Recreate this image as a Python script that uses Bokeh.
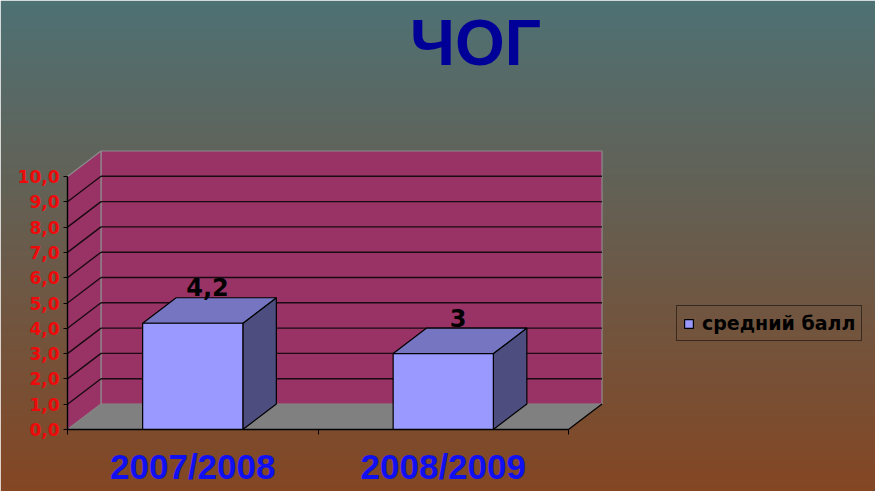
import numpy as np
from bokeh.plotting import figure
from bokeh.models import (Range1d, LinearAxis, FixedTicker, CustomJSTickFormatter,
                          Legend, LegendItem, Label, ColumnDataSource)
from bokeh.core.properties import value
from bokeh.embed import file_html
from bokeh.resources import INLINE

# ---------------- data ----------------
TITLE = "ЧОГ"
CATEGORIES = ["2007/2008", "2008/2009"]
SERIES_NAME = "средний балл"
VALUES = [4.2, 3.0]
VALUE_LABELS = ["4,2", "3"]
Y_TICKS = [0, 1, 2, 3, 4, 5, 6, 7, 8, 9, 10]
Y_MAX = 10

# ---------------- layout / style ----------------
W, H = 875, 491
AX_X_PX, AX_Y_PX = 67, 429          # where the value axis meets the category axis
CAT_PX = 250.5                      # pixels per category
UNIT_PX = 25.3                      # pixels per value unit
DX = 33.5 / CAT_PX                  # 3-D depth offset in data units
DY = 25.5 / UNIT_PX
HALF = 0.2                          # half bar width
FONT = "Liberation Sans"
FONT2 = "DejaVu Sans"

x0 = -AX_X_PX / CAT_PX
x1 = (W - AX_X_PX) / CAT_PX
y0 = (AX_Y_PX - H) / UNIT_PX
y1 = AX_Y_PX / UNIT_PX

p = figure(width=W, height=H, x_range=Range1d(x0, x1), y_range=Range1d(y0, y1),
           x_axis_type=None, y_axis_type=None, toolbar_location=None,
           output_backend="svg", min_border=0)
p.outline_line_color = None
p.background_fill_color = None
p.border_fill_color = None

# background gradient
rows = np.arange(H)
ref_y = H - 1 - rows + 0.5
t = (ref_y / H)[:, None]
top_c = np.array([78, 113, 116], dtype=float)
bot_c = np.array([132, 70, 35], dtype=float)
rgb = top_c + (bot_c - top_c) * t
img = np.empty((H, 2), dtype=np.uint32)
view = img.view(dtype=np.uint8).reshape((H, 2, 4))
for k in range(3):
    view[:, :, k] = np.round(rgb[:, k])[:, None]
view[:, :, 3] = 255
p.image_rgba(image=[img], x=x0, y=y0, dw=x1 - x0, dh=y1 - y0)

n = len(CATEGORIES)
xmax = float(n)

# walls
WALL = "#993366"
EDGE = "#8C8C8C"
p.patch([DX, xmax + DX, xmax + DX, DX], [DY, DY, Y_MAX + DY, Y_MAX + DY],
        fill_color=WALL, line_color=EDGE, line_width=1.2)
p.patch([0, DX, DX, 0], [0, DY, Y_MAX + DY, Y_MAX],
        fill_color=WALL, line_color=EDGE, line_width=1.2)
# floor
p.patch([0, xmax, xmax + DX, DX], [0, 0, DY, DY],
        fill_color="#808080", line_color=None)
p.segment(x0=[xmax], y0=[0], x1=[xmax + DX], y1=[DY], line_color="black", line_width=1.2)

# gridlines
inner = [v for v in Y_TICKS if 0 < v < Y_MAX]
p.segment(x0=[DX] * len(inner), y0=[v + DY for v in inner],
          x1=[xmax + DX] * len(inner), y1=[v + DY for v in inner],
          line_color="#1a0a12", line_width=1.4)
p.segment(x0=[0] * len(inner), y0=inner,
          x1=[DX] * len(inner), y1=[v + DY for v in inner],
          line_color="#1a0a12", line_width=1.4)

# bars
centers = np.arange(n) + 0.5
vals = np.array(VALUES)
side_xs = [[c + HALF, c + HALF + DX, c + HALF + DX, c + HALF] for c in centers]
side_ys = [[0, DY, v + DY, v] for v in vals]
top_xs = [[c - HALF, c + HALF, c + HALF + DX, c - HALF + DX] for c in centers]
top_ys = [[v, v, v + DY, v + DY] for v in vals]
p.patches(side_xs, side_ys, fill_color="#4D4D80", line_color="black", line_width=1.2)
p.patches(top_xs, top_ys, fill_color="#7575C2", line_color="black", line_width=1.2)
front = p.quad(left=centers - HALF, right=centers + HALF, bottom=0, top=vals,
               fill_color="#9999FF", line_color="black", line_width=1.2)

# value labels
src = ColumnDataSource(dict(x=centers + DX / 2 - 2 / CAT_PX,
                            y=vals + DY + 10.5 / UNIT_PX, t=VALUE_LABELS))
p.text(x="x", y="y", text="t", source=src, text_align="center", text_baseline="middle",
       text_font=value(FONT2), text_font_style="bold", text_font_size="24px",
       text_color="black")

# value axis
yax = LinearAxis(fixed_location=0, bounds=(0, Y_MAX), ticker=FixedTicker(ticks=Y_TICKS),
                 formatter=CustomJSTickFormatter(code="return tick.toFixed(1).replace('.', ',');"))
yax.axis_line_color = "black"
yax.axis_line_width = 1.5
yax.major_tick_line_color = "black"
yax.major_tick_in = 0
yax.major_tick_out = 4
yax.minor_tick_line_color = None
yax.major_label_standoff = 4
yax.major_label_text_color = "#EE0A0A"
yax.major_label_text_font = FONT2
yax.major_label_text_font_style = "bold"
yax.major_label_text_font_size = "17px"
p.add_layout(yax, "left")

# category axis (line + ticks)
xax = LinearAxis(fixed_location=0, bounds=(0, xmax), ticker=FixedTicker(ticks=list(range(n + 1))),
                 formatter=CustomJSTickFormatter(code="return '';"))
xax.axis_line_color = "black"
xax.axis_line_width = 1.5
xax.major_tick_in = 0
xax.major_tick_out = 5
xax.minor_tick_line_color = None
p.add_layout(xax, "below")

# category labels
xlab = LinearAxis(fixed_location=0, ticker=FixedTicker(ticks=list(centers)),
                  formatter=CustomJSTickFormatter(args=dict(labels=CATEGORIES),
                                                  code="return labels[Math.floor(tick)] || '';"))
xlab.axis_line_color = None
xlab.major_tick_line_color = None
xlab.minor_tick_line_color = None
xlab.major_label_standoff = 11
xlab.major_label_text_color = "#1010F0"
xlab.major_label_text_font = FONT
xlab.major_label_text_font_style = "bold"
xlab.major_label_text_font_size = "35px"
p.add_layout(xlab, "below")

# title
p.add_layout(Label(x=475, y=H - 42.5, x_units="screen", y_units="screen",
                   text=TITLE, text_align="center", text_baseline="middle",
                   text_font=FONT, text_font_style="bold", text_font_size="64px",
                   text_color="#000099"))

# legend
legend = Legend(items=[LegendItem(label=SERIES_NAME, renderers=[front])],
                location=(676, H - 341), margin=0, padding=6,
                glyph_width=11, glyph_height=11, label_standoff=8, spacing=0,
                border_line_color="black", border_line_width=1.2,
                background_fill_alpha=0,
                label_text_font=FONT2, label_text_font_style="bold",
                label_text_font_size="19px", label_text_color="black")
p.add_layout(legend)

open("out.html", "w").write(file_html(p, INLINE))
